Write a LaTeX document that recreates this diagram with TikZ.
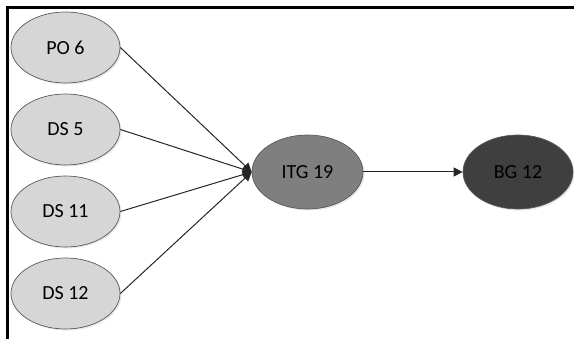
\documentclass[tikz,border=0pt]{standalone}
\usepackage{fontspec}
\setmainfont{Carlito}
\usetikzlibrary{shapes.geometric,arrows.meta,shadows}
\definecolor{lightfill}{HTML}{D6D6D6}
\definecolor{midfill}{HTML}{7F7F7F}
\definecolor{darkfill}{HTML}{3F3F3F}
\definecolor{edgegray}{HTML}{5A5A5A}
\tikzset{
  oval/.style={ellipse, draw=edgegray, line width=0.7pt, minimum width=109pt, minimum height=71pt,
    inner sep=0pt, font=\fontsize{20}{23}\selectfont,
    drop shadow={shadow xshift=1.5pt, shadow yshift=-1.5pt, fill=black!15, opacity=0.6}},
  conn/.style={draw=black!85, line width=1pt, -{Triangle[length=9pt,width=9pt]}},
  frame/.style={line width=2.2pt, black}
}
\begin{document}
\begin{tikzpicture}[x=1pt,y=-1pt]
\useasboundingbox (0,0) rectangle (574,339);
\coordinate (fa) at (7.5,339);
\coordinate (fb) at (7.5,7.5);
\coordinate (fc) at (574,7.5);
\draw[frame] (fa) -- (fb) -- (fc);
\node[oval, fill=lightfill] (po6) at (65.5,47.5) {PO 6};
\node[oval, fill=lightfill] (ds5) at (65.5,129.5) {DS 5};
\node[oval, fill=lightfill] (ds11) at (65.5,211.5) {DS 11};
\node[oval, fill=lightfill] (ds12) at (65.5,293.5) {DS 12};
\node[oval, fill=midfill, minimum width=111pt, minimum height=74pt] (itg) at (307.5,172) {ITG 19};
\node[oval, fill=darkfill, minimum width=110pt, minimum height=74pt] (bg) at (518,172) {BG 12};
\draw[conn] (po6.east) -- (itg.west);
\draw[conn] (ds5.east) -- (itg.west);
\draw[conn] (ds11.east) -- (itg.west);
\draw[conn] (ds12.east) -- (itg.west);
\draw[conn] (itg.east) -- (bg.west);
\end{tikzpicture}
\end{document}
